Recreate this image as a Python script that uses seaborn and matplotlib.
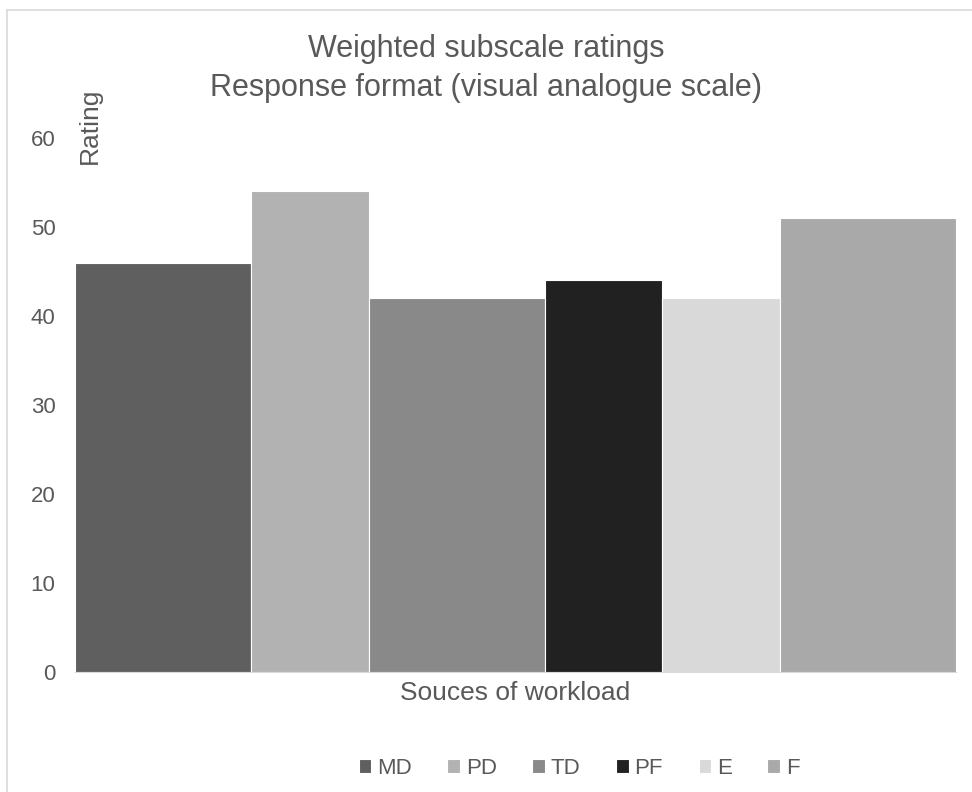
import numpy as np
import matplotlib
matplotlib.use("Agg")
import matplotlib.pyplot as plt
from matplotlib.lines import Line2D
import seaborn as sns

# Subscale ratings (visual analogue scale)
categories = ["MD", "PD", "TD", "PF", "E", "F"]
ratings = [46, 54, 42, 44, 42, 51]
bar_colors = ["#5f5f5f", "#b2b2b2", "#898989", "#212121", "#d9d9d9", "#a9a9a9"]

# relative bar widths (bars sit edge to edge)
rel_widths = [1.5, 1.0, 1.5, 1.0, 1.0, 1.5]

TEXT = "#595959"
sns.set_theme(style="white")
plt.rcParams["font.family"] = ["Liberation Sans", "DejaVu Sans"]

W, H = 972, 792
fig = plt.figure(figsize=(W / 100, H / 100), dpi=100)
fig.patch.set_facecolor("white")

left, right, bottom, top = 75, 956, 672, 138
ax = fig.add_axes([left / W, 1 - bottom / H, (right - left) / W, (bottom - top) / H])

sns.barplot(x=categories, y=ratings, hue=categories, palette=bar_colors,
            order=categories, hue_order=categories, width=1.0,
            legend=False, ax=ax, edgecolor="white", linewidth=0.8)

# place bars with their individual widths, edge to edge
bars = sorted(ax.patches, key=lambda p: p.get_x())
edges = np.concatenate([[0.0], np.cumsum(rel_widths)])
for p, x0, w in zip(bars, edges[:-1], rel_widths):
    p.set_x(x0)
    p.set_width(w)
ax.set_xlim(edges[0], edges[-1])
ax.set_ylim(0, 60)
ax.set_yticks(np.arange(0, 61, 10))
ax.set_xticks([])
ax.set_xlabel("")
ax.set_ylabel("")
ax.tick_params(axis="y", length=0, pad=14, labelsize=16, labelcolor=TEXT)
for s in ["top", "right", "left"]:
    ax.spines[s].set_visible(False)
ax.spines["bottom"].set_color("#d9d9d9")
ax.spines["bottom"].set_linewidth(0.75)
ax.grid(False)

# titles and axis titles
fig.text(486 / W, 1 - 57 / H, "Weighted subscale ratings", ha="center",
         va="baseline", fontsize=22, color=TEXT)
fig.text(486 / W, 1 - 96 / H, "Response format (visual analogue scale)",
         ha="center", va="baseline", fontsize=22, color=TEXT)
fig.text(90 / W, 1 - 126 / H, "Rating", rotation=90, ha="center", va="center",
         fontsize=19, color=TEXT)
fig.text(515 / W, 1 - 693 / H, "Souces of workload", ha="center", va="center",
         fontsize=19, color=TEXT)

leg = fig.legend(handles=bars, labels=categories, loc="center",
                 bbox_to_anchor=(579 / W, 1 - 768 / H), ncol=6, frameon=False,
                 fontsize=16, handlelength=0.58, handleheight=0.58,
                 handletextpad=0.25, columnspacing=1.6, borderpad=0)
for t in leg.get_texts():
    t.set_color(TEXT)

# chart area border
fig.add_artist(Line2D([7 / W, 7 / W], [1 - 10 / H, -0.1], color="#d9d9d9",
                      lw=1.2, transform=fig.transFigure))
fig.add_artist(Line2D([7 / W, 1.1], [1 - 10 / H, 1 - 10 / H], color="#d9d9d9",
                      lw=1.2, transform=fig.transFigure))

fig.savefig("out.png", dpi=100, facecolor="white")
